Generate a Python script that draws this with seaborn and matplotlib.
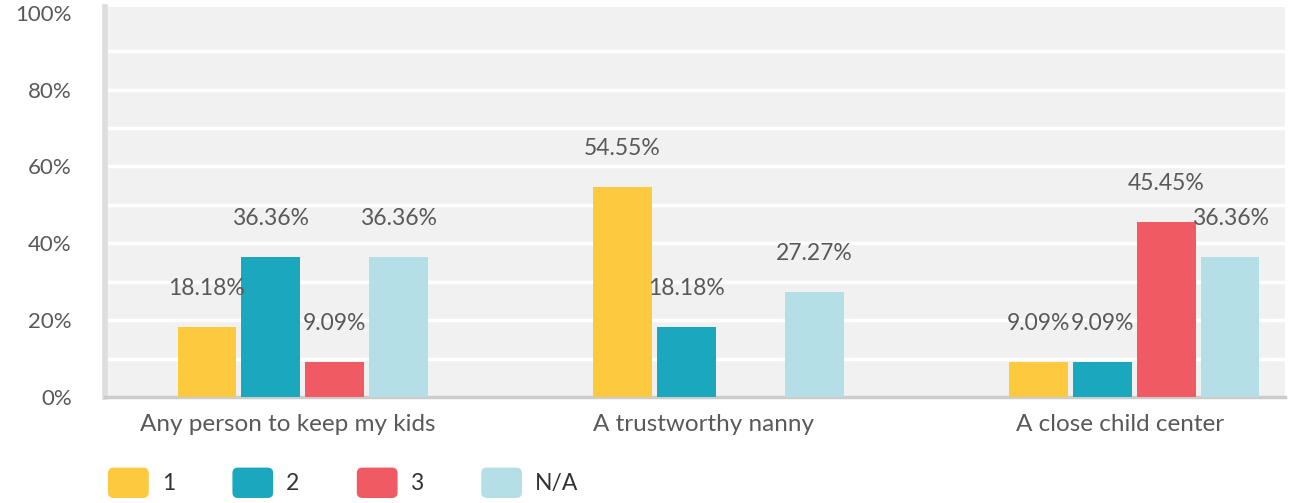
import numpy as np
import pandas as pd
import matplotlib
matplotlib.use("Agg")
import matplotlib.pyplot as plt
import seaborn as sns
from matplotlib.patches import FancyBboxPatch
from matplotlib.legend_handler import HandlerPatch
from matplotlib.patches import Patch

# Survey answers per option and ranking
categories = ["Any person to keep my kids", "A trustworthy nanny", "A close child center"]
series = ["1", "2", "3", "N/A"]
values_1 = [18.18, 54.55, 9.09]
values_2 = [36.36, 18.18, 9.09]
values_3 = [9.09, 0.0, 45.45]
values_na = [36.36, 27.27, 36.36]
y_ticks = [0, 20, 40, 60, 80, 100]
y_tick_labels = ["0%", "20%", "40%", "60%", "80%", "100%"]

colors = ["#FDC93F", "#1BA8BF", "#F05A63", "#B4DFE6"]

df = pd.DataFrame({
    "category": categories * 4,
    "series": [s for s in series for _ in categories],
    "value": values_1 + values_2 + values_3 + values_na,
})

sns.set_theme(style="white")
plt.rcParams["font.family"] = ["Lato", "DejaVu Sans"]

fig = plt.figure(figsize=(12.89, 5.03), dpi=100)
ax = fig.add_axes([105 / 1289, 1 - 397 / 503, 1180 / 1289, 390 / 503])
ax.set_facecolor("#F0F1F0")

sns.barplot(data=df, x="category", y="value", hue="series", order=categories,
            hue_order=series, palette=colors, width=0.615, gap=0.09,
            saturation=1, ax=ax, legend=False, zorder=3, linewidth=0)

# value labels above each non-empty bar
for container in ax.containers:
    for bar in container:
        h = bar.get_height()
        if h <= 0:
            continue
        ax.annotate(f"{h:.2f}%", (bar.get_x() + bar.get_width() / 2, h),
                    xytext=(0, 28), textcoords="offset points",
                    ha="center", va="center", fontsize=16.5, color="#595959")

# white grid every 10%
for g in range(10, 100, 10):
    ax.axhline(g, color="white", lw=2.5, zorder=1)

ax.set_ylim(0, 101.5)
ax.set_xlim(-0.475, 2.362)
ax.set_yticks(y_ticks)
ax.set_yticklabels(y_tick_labels)
ax.set_xticks(np.arange(len(categories)) - 0.035)
ax.set_xticklabels(categories)
ax.tick_params(axis="y", length=0, pad=24, labelsize=16, labelcolor="#595959")
ax.tick_params(axis="x", length=0, pad=12, labelsize=17.5, labelcolor="#595959")
ax.set_xlabel("")
ax.set_ylabel("")

for side in ["top", "right"]:
    ax.spines[side].set_visible(False)
ax.spines["left"].set_color("#DDDDDD")
ax.spines["left"].set_linewidth(4)
ax.spines["bottom"].set_color("#CCCCCC")
ax.spines["bottom"].set_linewidth(2.5)


class RoundedHandler(HandlerPatch):
    def create_artists(self, legend, orig_handle, xdescent, ydescent,
                       width, height, fontsize, trans):
        p = FancyBboxPatch((-xdescent + 1, -ydescent + 1), width - 2, height - 2,
                           boxstyle="round,pad=0,rounding_size=4",
                           facecolor=orig_handle.get_facecolor(),
                           edgecolor="none", transform=trans)
        return [p]


handles = [Patch(facecolor=c, label=s) for c, s in zip(colors, series)]
leg = fig.legend(handles=handles, loc="lower left",
                 bbox_to_anchor=(86 / 1289, -17 / 503),
                 ncol=4, frameon=False, fontsize=16.5, handlelength=1.9,
                 handleheight=1.85, handletextpad=0.5, columnspacing=2.45,
                 handler_map={Patch: RoundedHandler()})
for t in leg.get_texts():
    t.set_color("#333333")

fig.savefig("out.png", dpi=100)
